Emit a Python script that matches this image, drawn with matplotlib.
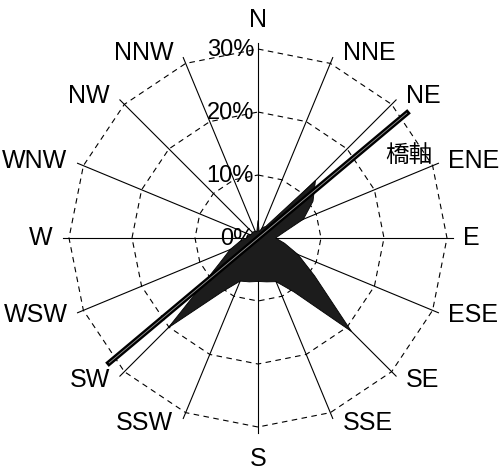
import numpy as np
import matplotlib
matplotlib.use("Agg")
import matplotlib.pyplot as plt

plt.rcParams['font.family'] = ['Liberation Sans', 'Noto Sans CJK JP']

# 16 compass points, clockwise from north
directions = ['N', 'NNE', 'NE', 'ENE', 'E', 'ESE', 'SE', 'SSE',
              'S', 'SSW', 'SW', 'WSW', 'W', 'WNW', 'NW', 'NNW']

# wind frequency (%) in 32 sectors, clockwise from north
freq = [2.8, 1.0, 1.8, 2.2, 12.9, 10.5, 7.8, 4.0,
        2.8, 4.3, 6.9, 10.8, 21.0, 10.3, 7.5, 7.1,
        6.9, 7.1, 7.4, 10.3, 20.2, 7.5, 4.8, 3.0,
        1.8, 1.5, 1.3, 1.2, 1.3, 1.2, 1.2, 1.0]

ring_levels = [10, 20, 30]
ring_labels = ['0%', '10%', '20%', '30%']

# bridge axis orientation (deg from north) and drawn length (%)
bridge_bearing = 50
bridge_len = 31.3
bridge_label = '橋軸'

fig = plt.figure(figsize=(5.0, 4.71), dpi=100)
ax = fig.add_axes([0.075, 0.0265, 0.882, 0.9363], projection='polar')
ax.set_theta_zero_location('N')
ax.set_theta_direction(-1)
ax.set_ylim(0, 35)
ax.grid(False)
ax.set_xticks([])
ax.set_yticks([])
ax.spines['polar'].set_visible(False)

spoke_th = np.deg2rad(np.arange(len(directions)) * 360 / len(directions))
ring_th = np.append(spoke_th, spoke_th[0])

# dashed polygon rings and the spokes
for lev in ring_levels:
    ax.plot(ring_th, [lev] * len(ring_th), color='k', lw=0.8,
            ls=(0, (5, 4)), zorder=1)
for th in spoke_th:
    ax.plot([th, th], [0, 31], color='k', lw=0.8, zorder=1)

# percent labels along the north spoke
for lev, lab in zip([0] + ring_levels, ring_labels):
    ax.annotate(lab, xy=(0, lev), xytext=(-4, -1), textcoords='offset pixels',
                ha='right', va='center', fontsize=17, zorder=2)

# frequency polygon
data_th = np.deg2rad(np.arange(len(freq)) * 360 / len(freq))
ax.fill(data_th, freq, facecolor='#1c1c1c', edgecolor='k', lw=0.6, zorder=4)

# bridge axis drawn as a dark band with a thin light core
bt = np.deg2rad([bridge_bearing, bridge_bearing + 180])
ax.plot(bt, [bridge_len, bridge_len], color='k', lw=4.0,
        solid_capstyle='butt', zorder=5)
ax.plot(bt, [bridge_len - 0.4, bridge_len - 0.4], color='#9a9a9a', lw=0.6,
        solid_capstyle='butt', zorder=6)
ax.text(np.deg2rad(61.5), 27.3, bridge_label, ha='center', va='center',
        fontsize=17, zorder=6)

# compass labels at the spoke ends
for name, th in zip(directions, spoke_th):
    s, c = np.sin(th), np.cos(th)
    if abs(s) < 0.01:
        ha = 'center'
        off = (0, 23 if c > 0 else -26)
    else:
        ha = 'left' if s > 0 else 'right'
        off = (10 * np.sign(s), 5 * c)
    ax.annotate(name, xy=(th, 31), xytext=off, textcoords='offset pixels',
                ha=ha, va='center', fontsize=18, annotation_clip=False)

fig.savefig('out.png', dpi=100)
